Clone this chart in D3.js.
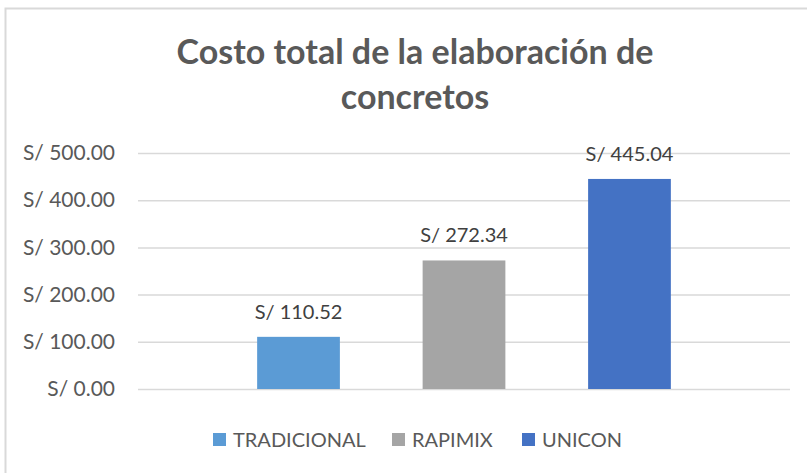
<!DOCTYPE html>
<html>
<head>
<meta charset="utf-8">
<script src="https://cdn.jsdelivr.net/npm/d3@7"></script>
<style>
  body { margin: 0; background: #fff; }
  svg { display: block; }
  text { font-family: Lato, "Open Sans", sans-serif; }
</style>
</head>
<body>
<div id="chart"></div>
<script>
// data
var series = ["TRADICIONAL", "RAPIMIX", "UNICON"];
var values = [110.52, 272.34, 445.04];
var colors = ["#5B9BD5", "#A5A5A5", "#4472C4"];
var yTicks = [0, 100, 200, 300, 400, 500];
var titleLines = ["Costo total de la elaboración de", "concretos"];

var W = 807, H = 473;
var svg = d3.select("#chart").append("svg").attr("width", W).attr("height", H);

// chart frame (right/bottom fall outside the picture)
svg.append("rect").attr("x", 5.5).attr("y", 8.5).attr("width", W + 10).attr("height", H + 10)
    .attr("fill", "none").attr("stroke", "#d9d9d9").attr("stroke-width", 2);

var fmt = function(v){ return "S/ " + d3.format(",.2f")(v); };

var x = d3.scaleBand().domain(series).range([138, 790]).paddingInner(0.5).paddingOuter(0.72);
var y = d3.scaleLinear().domain([0, 500]).range([389, 153]);

// title
svg.append("g").selectAll("text").data(titleLines).enter().append("text")
    .attr("x", 415).attr("y", function(d,i){ return 64 + i*45; })
    .attr("text-anchor", "middle").attr("font-weight", "bold").attr("font-size", 34)
    .attr("fill", "#595959").text(function(d){ return d; });

// y axis with gridlines
var yAxis = svg.append("g").attr("transform", "translate(138,0)")
    .call(d3.axisLeft(y).tickValues(yTicks).tickSize(-652).tickFormat(fmt).tickPadding(23));
yAxis.select(".domain").remove();
yAxis.selectAll(".tick line").attr("stroke", "#d9d9d9").attr("stroke-width", 1.5);
yAxis.selectAll(".tick text").attr("fill", "#595959").attr("font-size", 21)
    .attr("font-family", "Lato, 'Open Sans', sans-serif");

// bars
svg.append("g").selectAll("rect").data(values).enter().append("rect")
    .attr("x", function(d,i){ return x(series[i]); })
    .attr("y", function(d){ return y(d); })
    .attr("width", x.bandwidth())
    .attr("height", function(d){ return y(0) - y(d); })
    .attr("fill", function(d,i){ return colors[i]; });

// data labels
svg.append("g").selectAll("text").data(values).enter().append("text")
    .attr("x", function(d,i){ return x(series[i]) + x.bandwidth()/2; })
    .attr("y", function(d){ return y(d) - 18; })
    .attr("text-anchor", "middle").attr("font-size", 20).attr("fill", "#404040")
    .text(fmt);

// legend
var legendX = [213, 392, 522];
var lg = svg.append("g").selectAll("g").data(series).enter().append("g")
    .attr("transform", function(d,i){ return "translate(" + legendX[i] + ",433)"; });
lg.append("rect").attr("width", 13).attr("height", 13)
    .attr("fill", function(d,i){ return colors[i]; });
lg.append("text").attr("x", 20).attr("y", 14).attr("font-size", 20).attr("fill", "#595959")
    .text(function(d){ return d; });
</script>
</body>
</html>
